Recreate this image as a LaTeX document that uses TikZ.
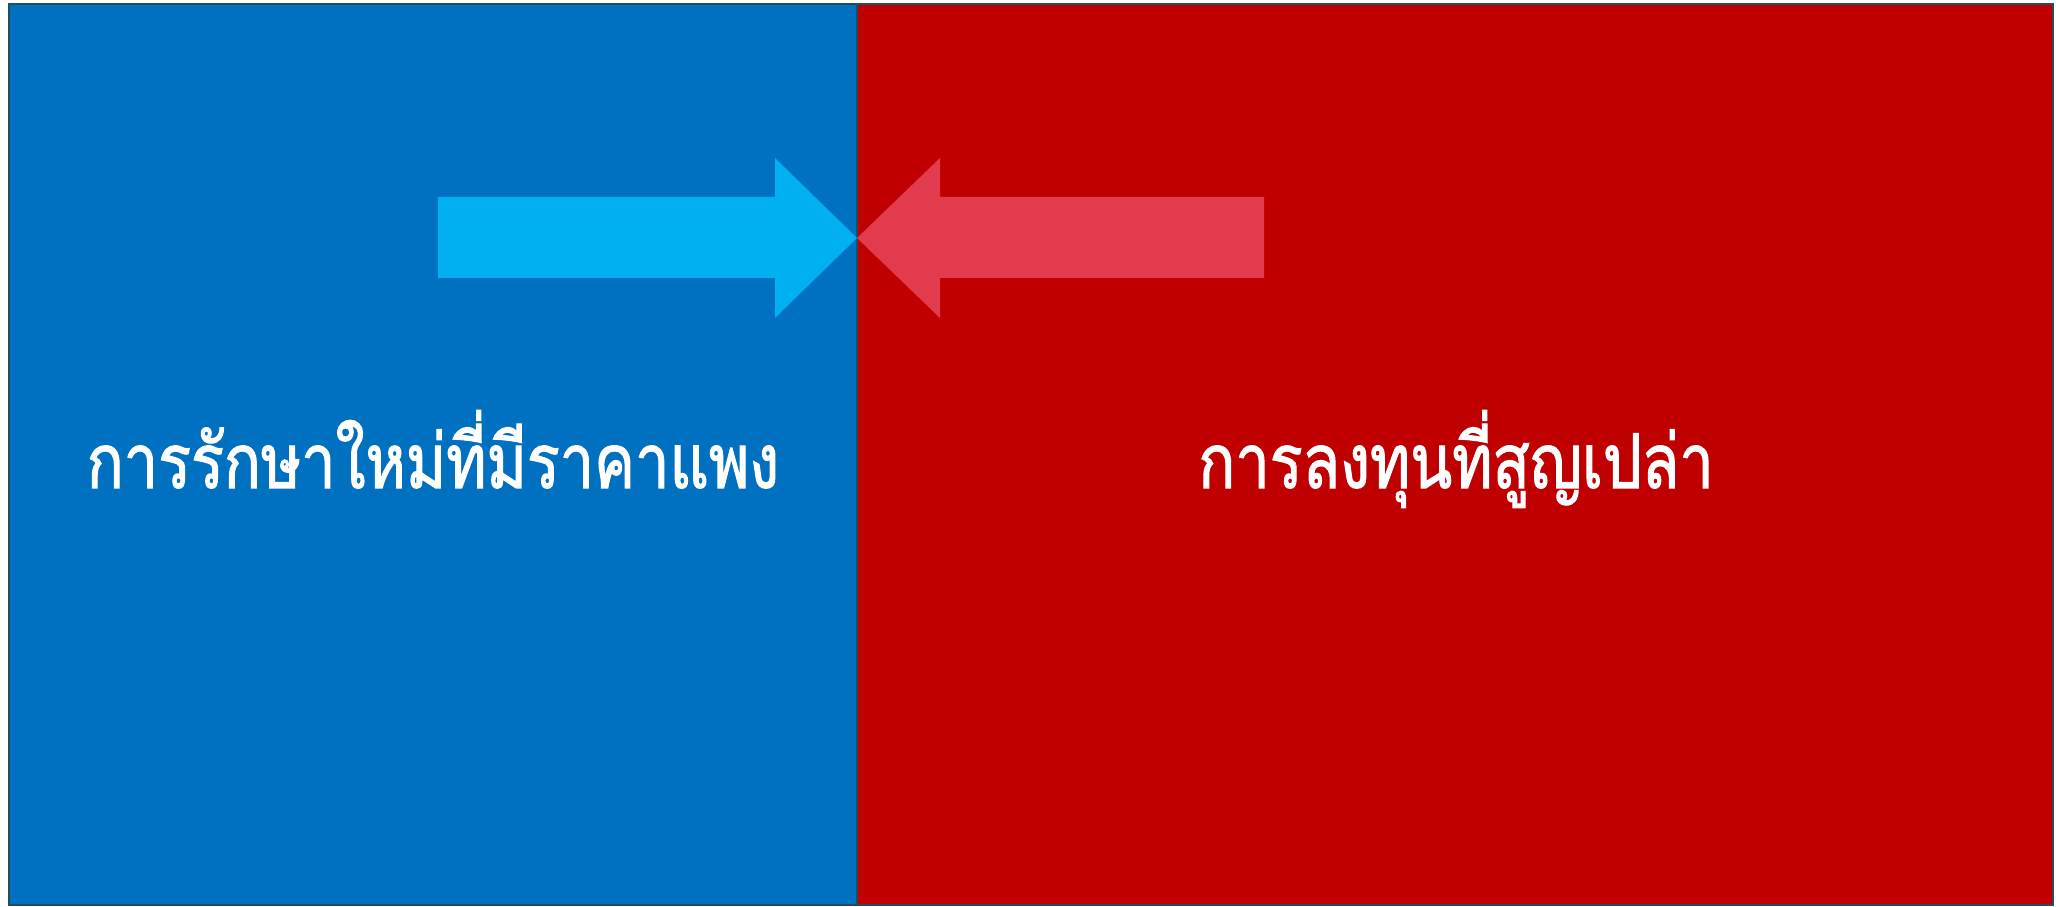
\documentclass[tikz,border=0pt]{standalone}
\usepackage{fontspec}
\newfontfamily\thaifont[Script=Thai,FakeBold=1.5,FakeStretch=0.81]{Loma}
\usetikzlibrary{positioning}
\definecolor{panelblue}{HTML}{0070C0}
\definecolor{panelred}{HTML}{C00000}
\definecolor{arrowblue}{HTML}{00B0F0}
\definecolor{arrowred}{HTML}{E23B4E}
\definecolor{edgeline}{HTML}{1F4E5F}
\tikzstyle{panel} = [draw=edgeline,line width=0.6pt]
\tikzstyle{label} = [text=white,font=\thaifont\fontsize{21.5}{26}\selectfont,anchor=base,inner sep=0pt]

\begin{document}
\begin{tikzpicture}
  \useasboundingbox (0,0) rectangle (20.56,9.07);
  \fill [white] (0,0) rectangle (20.56,9.07);

  \filldraw [panel,fill=panelblue] (0.09,0.02) rectangle (8.57,9.03);
  \filldraw [panel,fill=panelred] (8.57,0.02) rectangle (20.53,9.03);

  \coordinate (tip) at (8.57,6.69);
  \fill [arrowblue] (4.38,6.29) -- (7.75,6.29) -- (7.75,5.89) -- (tip)
    -- (7.75,7.49) -- (7.75,7.10) -- (4.38,7.10) -- cycle;
  \fill [arrowred] (12.64,6.29) -- (9.40,6.29) -- (9.40,5.89) -- (tip)
    -- (9.40,7.49) -- (9.40,7.10) -- (12.64,7.10) -- cycle;

  \node [label] (costly) at (4.33,4.19) {การรักษาใหม่ที่มีราคาแพง};
  \node [label] (wasted) at (14.56,4.19) {การลงทุนที่สูญเปล่า};
\end{tikzpicture}
\end{document}
